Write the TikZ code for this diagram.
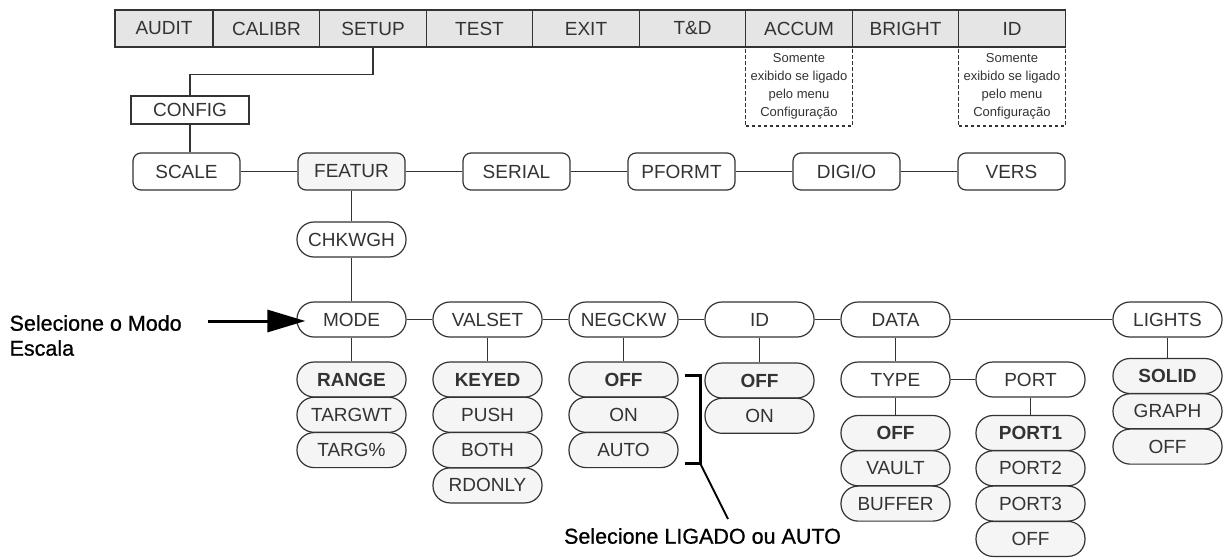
\documentclass[tikz,border=0pt]{standalone}
\usepackage{fontspec}
\setmainfont{Liberation Sans}
\newfontfamily\remarkfamily[FakeBold=0.8]{Liberation Sans}
\usetikzlibrary{arrows.meta,positioning}

\newcommand{\menufont}{\fontsize{19}{22}\selectfont}
\newcommand{\notefont}{\fontsize{13}{18}\selectfont}
\newcommand{\remarkfont}{\remarkfamily\fontsize{21.5}{25}\selectfont}

\begin{document}
\begin{tikzpicture}[x=1pt, y=-1pt, auto, color=black!80, line width=1.2pt,
    menucell/.style={draw, fill=black!10, minimum width=106.5pt, minimum height=37pt, inner sep=0pt, font=\menufont, node distance=106.5pt},
    configbox/.style={draw, fill=white, minimum width=118pt, minimum height=28pt, inner sep=0pt, font=\menufont},
    menubox/.style={draw, fill=white, rounded corners=8pt, minimum width=107pt, minimum height=37pt, inner sep=0pt, font=\menufont, node distance=165pt},
    itembox/.style={draw, fill=white, rounded corners=17pt, minimum width=109pt, minimum height=35pt, inner sep=0pt, font=\menufont, node distance=136pt},
    choice/.style={itembox, fill=black!4, node distance=35.3pt},
    default/.style={choice, font=\menufont\bfseries},
    notebox/.style={draw, dash pattern=on 3.5pt off 2.5pt, minimum width=106.5pt, minimum height=79pt, inner sep=0pt, align=center, font=\notefont},
    remark/.style={text=black, font=\remarkfont, inner sep=0pt}]
        \useasboundingbox (0,0) rectangle (1223,557);

        % Top menu bar
        \node (audit) [menucell, minimum width=98pt] at (164,28.5) {AUDIT};
        \node (calibr) [menucell, right of=audit, node distance=102.5pt] {CALIBR};
        \node (setup) [menucell, right of=calibr] {SETUP};
        \node (test) [menucell, right of=setup] {TEST};
        \node (exit) [menucell, right of=test] {EXIT};
        \node (td) [menucell, right of=exit] {T\&D};
        \node (accum) [menucell, right of=td] {ACCUM};
        \node (bright) [menucell, right of=accum] {BRIGHT};
        \node (idtop) [menucell, right of=bright] {ID};
        \node (accumnote) [notebox, below of=accum, node distance=58pt] {Somente\\exibido se ligado\\pelo menu\\Configuração};
        \node (idnote) [notebox, below of=idtop, node distance=58pt] {Somente\\exibido se ligado\\pelo menu\\Configuração};

        % Configuration menus
        \node (config) [configbox] at (190,110) {CONFIG};
        \node (scale) [menubox] at (186.5,171.5) {SCALE};
        \node (featur) [menubox, fill=black!4, right of=scale] {FEATUR};
        \node (serial) [menubox, right of=featur] {SERIAL};
        \node (pformt) [menubox, right of=serial] {PFORMT};
        \node (digio) [menubox, right of=pformt] {DIGI/O};
        \node (vers) [menubox, right of=digio] {VERS};

        % Checkweigh parameters
        \node (chkwgh) [itembox, below of=featur, node distance=68pt] {CHKWGH};
        \node (mode) [itembox, below of=chkwgh, node distance=80pt] {MODE};
        \node (valset) [itembox, right of=mode] {VALSET};
        \node (negckw) [itembox, right of=valset] {NEGCKW};
        \node (idmenu) [itembox, right of=negckw] {ID};
        \node (data) [itembox, right of=idmenu] {DATA};
        \node (lights) [itembox, right of=data, node distance=272pt] {LIGHTS};

        % Choices
        \node (range) [default, below of=mode, node distance=60pt] {RANGE};
        \node (targwt) [choice, below of=range] {TARGWT};
        \node (targpct) [choice, below of=targwt] {TARG\%};
        \node (keyed) [default, below of=valset, node distance=60pt] {KEYED};
        \node (push) [choice, below of=keyed] {PUSH};
        \node (both) [choice, below of=push] {BOTH};
        \node (rdonly) [choice, below of=both] {RDONLY};
        \node (negoff) [default, below of=negckw, node distance=60pt] {OFF};
        \node (negon) [choice, below of=negoff] {ON};
        \node (negauto) [choice, below of=negon] {AUTO};
        \node (idoff) [default, below of=idmenu, node distance=61pt] {OFF};
        \node (idon) [choice, below of=idoff] {ON};
        \node (type) [itembox, below of=data, node distance=60pt] {TYPE};
        \node (port) [itembox, right of=type, node distance=135pt] {PORT};
        \node (typeoff) [default, below of=type, node distance=53.5pt] {OFF};
        \node (vault) [choice, below of=typeoff] {VAULT};
        \node (buffer) [choice, below of=vault] {BUFFER};
        \node (port1) [default, below of=port, node distance=53.5pt] {PORT1};
        \node (port2) [choice, below of=port1] {PORT2};
        \node (port3) [choice, below of=port2] {PORT3};
        \node (portoff) [choice, below of=port3] {OFF};
        \node (solid) [default, below of=lights, node distance=56.5pt] {SOLID};
        \node (graph) [choice, below of=solid] {GRAPH};
        \node (lightsoff) [choice, below of=graph] {OFF};

        % Remarks
        \node (modenote) [remark, anchor=west, align=left] at (9,335.5) {Selecione o Modo\\Escala};
        \node (ligadonote) [remark] at (702.5,536) {Selecione LIGADO ou AUTO};
        \coordinate (arrowtail) at (208,321);
        \coordinate (brtop) at (685,375);
        \coordinate (brbot) at (685,463);
        \coordinate (notetip) at (728,519);

        % Draw connectors
        \draw (setup.south) -- ++(0,27) -| (config.north);
        \draw (config.south) -- (config.south |- scale.north);
        \draw (scale) -- (featur) -- (serial) -- (pformt) -- (digio) -- (vers);
        \draw (featur) -- (chkwgh) -- (mode);
        \draw (mode) -- (valset) -- (negckw) -- (idmenu) -- (data) -- (lights);
        \draw (mode) -- (range);
        \draw (valset) -- (keyed);
        \draw (negckw) -- (negoff);
        \draw (idmenu) -- (idoff);
        \draw (data) -- (type);
        \draw (type) -- (port);
        \draw (type) -- (typeoff);
        \draw (port) -- (port1);
        \draw (lights) -- (solid);
        \draw[-{Triangle[length=38pt, width=22pt]}, line width=3pt, black, shorten >=-9pt] (arrowtail) -- (arrowtail -| mode.west);
        \draw[line width=3pt, black] (brtop) -- ++(15,0) coordinate (brtopr) -- (brtopr |- brbot) coordinate (brcorner) -- (brbot);
        \draw[line width=2pt, black] (brcorner) -- (notetip);
    \end{tikzpicture}
\end{document}
